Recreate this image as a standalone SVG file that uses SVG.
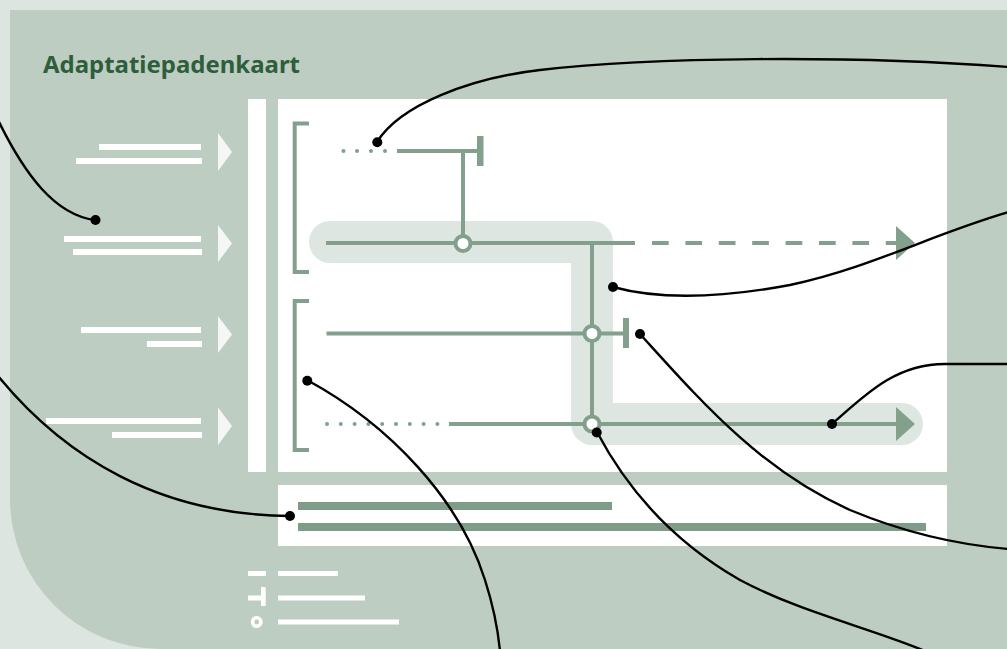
<svg xmlns="http://www.w3.org/2000/svg" width="1007" height="649" viewBox="0 0 1007 649">
  <style>
    .panel { fill: #becdc2; }
    .white { fill: #ffffff; }
    .bar { fill: #ffffff; }
    .tri { fill: #f4f7f5; }
    .path { fill: none; stroke: #82a08b; stroke-width: 4; }
    .dot { fill: #82a08b; }
    .node { fill: #ffffff; stroke: #82a08b; stroke-width: 4; }
    .band { fill: none; stroke: #dde6e0; stroke-width: 42; stroke-linecap: round; stroke-linejoin: round; }
    .gbar { fill: #7e9c88; }
    .lead { fill: none; stroke: #000000; stroke-width: 2.4; }
    .end { fill: #000000; }
    .title { font-family: "Noto Sans", "Open Sans", sans-serif; font-weight: bold; font-size: 24px; fill: #2e5e3b; }
  </style>
  <defs>
    <marker id="head" viewBox="0 0 20 34" refX="0" refY="17" markerWidth="20" markerHeight="34" markerUnits="userSpaceOnUse" orient="auto">
      <path d="M0,0 L19,17 L0,34 Z" fill="#82a08b"/>
    </marker>
  </defs>

  <!-- backdrop -->
  <rect x="0" y="0" width="1007" height="649" fill="#dde5e0"/>
  <path class="panel" d="M10,10 H1007 V649 H160 A150,150 0 0 1 10,499 Z"/>

  <text class="title" x="43" y="73" textLength="257" lengthAdjust="spacingAndGlyphs">Adaptatiepadenkaart</text>

  <!-- input rows on the left -->
  <g id="row1">
    <rect class="bar" x="99" y="144" width="102" height="6"/>
    <rect class="bar" x="76" y="158" width="126" height="6"/>
    <path class="tri" d="M218,133 L232,152 L218,171 Z"/>
  </g>
  <g id="row2">
    <rect class="bar" x="64" y="236" width="137" height="6"/>
    <rect class="bar" x="73" y="249" width="129" height="6"/>
    <path class="tri" d="M218,225 L232,243.5 L218,262 Z"/>
  </g>
  <g id="row3">
    <rect class="bar" x="81" y="327" width="120" height="6"/>
    <rect class="bar" x="147" y="341" width="55" height="6"/>
    <path class="tri" d="M218,316 L232,334.5 L218,353 Z"/>
  </g>
  <g id="row4">
    <rect class="bar" x="46" y="418" width="155" height="6"/>
    <rect class="bar" x="112" y="432" width="90" height="6"/>
    <path class="tri" d="M218,407.5 L232,426 L218,445 Z"/>
  </g>

  <!-- axis column and map area -->
  <g id="axis"><rect class="white" x="248" y="99" width="18" height="373"/></g>
  <g id="map">
    <rect class="white" x="278" y="99" width="669" height="373"/>
    <path class="band" d="M330,242 H592 V424 H902"/>
  </g>

  <!-- brackets -->
  <g id="bracket-top"><path class="path" d="M309,123.5 H294.7 V272 H309"/></g>
  <g id="bracket-bottom"><path class="path" d="M309,301 H294.7 V450 H309"/></g>

  <!-- pathway 1: dotted then solid, ending in a tipping point -->
  <g id="path1">
    <circle class="dot" cx="343.5" cy="151" r="2"/>
    <circle class="dot" cx="357" cy="151" r="2"/>
    <circle class="dot" cx="371" cy="151" r="2"/>
    <circle class="dot" cx="385" cy="151" r="2"/>
    <path class="path" d="M397,151 H478"/>
    <rect class="dot" x="477" y="136" width="6.5" height="30"/>
    <path class="path" d="M463,151 V236"/>
  </g>

  <!-- pathway 2: solid then dashed arrow -->
  <g id="path2">
    <path class="path" d="M326,243 H635"/>
    <path class="path" d="M652,243 H896" stroke-dasharray="16.7 16.7" marker-end="url(#head)"/>
    <circle class="node" cx="463" cy="243.5" r="7.5"/>
  </g>

  <!-- pathway 3: solid line ending in a tipping point -->
  <g id="path3">
    <path class="path" d="M326.5,333.5 H624"/>
    <rect class="dot" x="623" y="318" width="6" height="30"/>
  </g>

  <!-- vertical transfer line -->
  <g id="transfer">
    <path class="path" d="M592,243 V424"/>
    <circle class="node" cx="592" cy="333.5" r="7.5"/>
  </g>

  <!-- pathway 4: dotted then solid arrow -->
  <g id="path4">
    <circle class="dot" cx="327" cy="424" r="2"/>
    <circle class="dot" cx="340.8" cy="424" r="2"/>
    <circle class="dot" cx="354.6" cy="424" r="2"/>
    <circle class="dot" cx="368.4" cy="424" r="2"/>
    <circle class="dot" cx="382.2" cy="424" r="2"/>
    <circle class="dot" cx="396" cy="424" r="2"/>
    <circle class="dot" cx="409.8" cy="424" r="2"/>
    <circle class="dot" cx="423.6" cy="424" r="2"/>
    <circle class="dot" cx="437.4" cy="424" r="2"/>
    <path class="path" d="M449,424 H896" marker-end="url(#head)"/>
    <circle class="node" cx="592" cy="424" r="7.5"/>
  </g>

  <!-- time axis box -->
  <g id="timeline">
    <rect class="white" x="278" y="485" width="669" height="61"/>
    <rect class="gbar" x="298" y="502" width="314" height="8"/>
    <rect class="gbar" x="298" y="523" width="628" height="8"/>
  </g>

  <!-- legend -->
  <g id="legend-line">
    <rect class="bar" x="248" y="571" width="18" height="5"/>
    <rect class="bar" x="278" y="571" width="60" height="5"/>
  </g>
  <g id="legend-tip">
    <rect class="bar" x="248" y="595.5" width="15" height="5"/>
    <rect class="bar" x="261" y="587" width="4.7" height="19"/>
    <rect class="bar" x="278" y="595.5" width="87" height="5"/>
  </g>
  <g id="legend-node">
    <circle cx="256.7" cy="622" r="4.2" fill="none" stroke="#ffffff" stroke-width="3.6"/>
    <rect class="bar" x="278" y="619.5" width="121" height="5"/>
  </g>

  <!-- leader lines -->
  <g id="connectors">
    <path class="lead" d="M-2,120 C25,175 55,215 95,220"/>
    <circle class="end" cx="95.5" cy="220" r="5"/>

    <path class="lead" d="M377,142 C400,105 470,78 540,70 C650,57 850,55 1009,67"/>
    <circle class="end" cx="377.3" cy="142.3" r="5"/>

    <path class="lead" d="M613,287 C660,300 720,298 790,285 C870,268 930,235 1009,212"/>
    <circle class="end" cx="613" cy="287" r="5"/>

    <path class="lead" d="M832,424 C865,395 895,364 945,364 H1009"/>
    <circle class="end" cx="832" cy="424" r="5"/>

    <path class="lead" d="M640,334 C700,400 760,470 850,510 C910,535 960,545 1009,549"/>
    <circle class="end" cx="640" cy="334" r="5"/>

    <path class="lead" d="M597,432 C625,485 670,540 740,580 C800,612 870,628 925,651"/>
    <circle class="end" cx="596.7" cy="432.5" r="5"/>

    <path class="lead" d="M307,380 C390,425 460,500 485,580 C493,605 498,630 500,651"/>
    <circle class="end" cx="307.3" cy="380.7" r="5"/>

    <path class="lead" d="M-2,376 C65,458 160,515 290,516"/>
    <circle class="end" cx="290" cy="516" r="5"/>
  </g>
</svg>
